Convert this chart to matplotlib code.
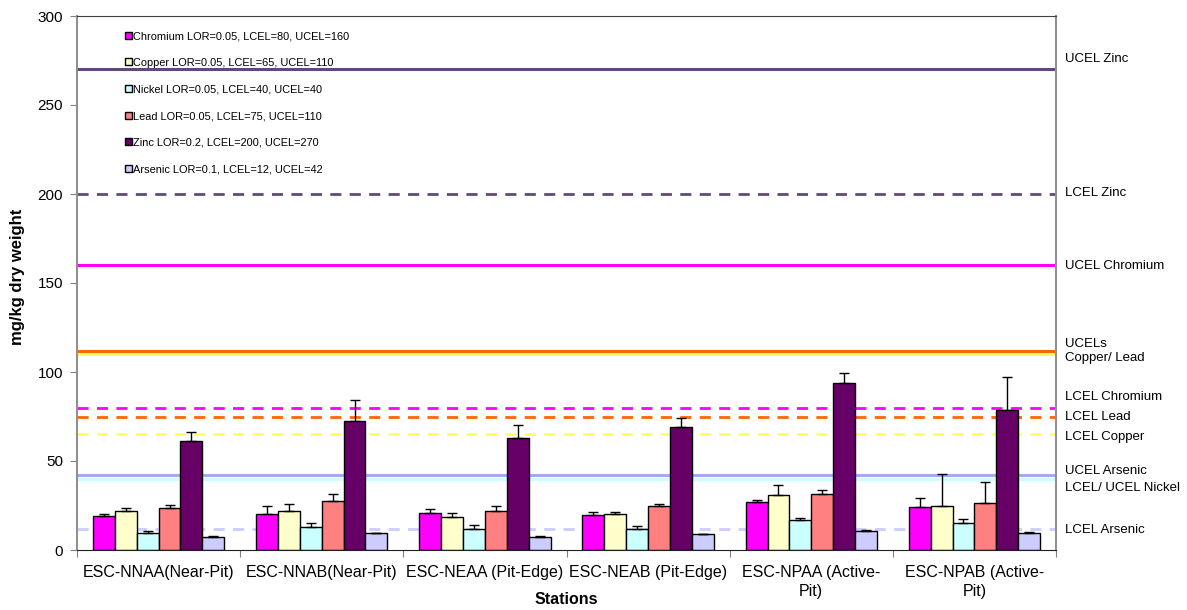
import matplotlib

matplotlib.use("Agg")

import matplotlib.pyplot as plt
import matplotlib.transforms as mtransforms
import numpy as np

plt.rcParams["font.family"] = ["Liberation Sans", "DejaVu Sans"]

stations = [
    "ESC-NNAA(Near-Pit)",
    "ESC-NNAB(Near-Pit)",
    "ESC-NEAA (Pit-Edge)",
    "ESC-NEAB (Pit-Edge)",
    "ESC-NPAA (Active-\nPit)",
    "ESC-NPAB (Active-\nPit)",
]
metals = ["Chromium", "Copper", "Nickel", "Lead", "Zinc", "Arsenic"]
legend_labels = [
    "Chromium LOR=0.05, LCEL=80, UCEL=160",
    "Copper LOR=0.05, LCEL=65, UCEL=110",
    "Nickel LOR=0.05, LCEL=40, UCEL=40",
    "Lead LOR=0.05, LCEL=75, UCEL=110",
    "Zinc LOR=0.2, LCEL=200, UCEL=270",
    "Arsenic LOR=0.1, LCEL=12, UCEL=42",
]
bar_colors = ["#FF00FF", "#FFFFCC", "#CCFFFF", "#FF8080", "#660066", "#CCCCFF"]

# mean concentration per metal, one entry per station
means = {
    "Chromium": [18.9, 20.4, 20.6, 19.4, 26.7, 24.1],
    "Copper":   [22.0, 22.0, 18.3, 20.4, 30.7, 24.7],
    "Nickel":   [9.6, 13.2, 12.0, 12.0, 16.8, 15.2],
    "Lead":     [23.5, 27.5, 22.0, 24.8, 31.5, 26.5],
    "Zinc":     [61.0, 72.3, 62.7, 69.0, 93.6, 78.8],
    "Arsenic":  [7.4, 9.4, 7.4, 8.8, 10.6, 9.4],
}
# upper error (standard deviation) per metal
errors = {
    "Chromium": [1.4, 4.1, 2.5, 2.2, 1.3, 5.0],
    "Copper":   [1.5, 3.6, 2.3, 1.2, 5.6, 18.2],
    "Nickel":   [1.3, 2.1, 1.8, 1.3, 1.1, 2.2],
    "Lead":     [1.7, 3.9, 2.5, 1.3, 2.4, 11.9],
    "Zinc":     [5.2, 11.7, 7.7, 5.1, 5.7, 18.6],
    "Arsenic":  [0.7, 0.3, 0.3, 0.3, 0.7, 0.7],
}

# guideline levels: (value, colour, solid?)
guidelines = [
    (270, "#604A7B", True),    # UCEL Zinc
    (200, "#604A7B", False),   # LCEL Zinc
    (160, "#FF00FF", True),    # UCEL Chromium
    (110, "#FFFF66", True),    # UCEL Copper
    (80, "#FF00FF", False),    # LCEL Chromium
    (75, "#FF6600", False),    # LCEL Lead
    (65, "#FFFF66", False),    # LCEL Copper
    (42, "#A8A8F0", True),     # UCEL Arsenic
    (40, "#CCFFFF", True),     # LCEL/UCEL Nickel
    (12, "#CCCCFF", False),    # LCEL Arsenic
]
lead_ucel = 110

side_labels = [
    ("UCEL Zinc", 59),
    ("LCEL Zinc", 193),
    ("UCEL Chromium", 266),
    ("UCELs\nCopper/ Lead", 351),
    ("LCEL Chromium", 397),
    ("LCEL Lead", 417),
    ("LCEL Copper", 437),
    ("UCEL Arsenic", 471),
    ("LCEL/ UCEL Nickel", 488),
    ("LCEL Arsenic", 530),
]

W, H = 1187, 610
fig = plt.figure(figsize=(W / 100, H / 100), dpi=100)
ax = fig.add_axes([77 / W, 1 - 550 / H, (1056 - 77) / W, (550 - 16) / H])

for value, color, solid in guidelines:
    ax.axhline(value, color=color, linewidth=2.2 if solid else 2.0,
               linestyle="-" if solid else (0, (4, 3)), zorder=1)
# Lead UCEL sits on the copper one; nudge it up a couple of points so both show
lead_trans = mtransforms.offset_copy(ax.transData, fig=fig, y=2.2, units="points")
ax.plot([-0.5, len(stations) - 0.5], [lead_ucel, lead_ucel], color="#FF6600",
        linewidth=2.2, transform=lead_trans, zorder=1)

x = np.arange(len(stations))
width = 0.134
offsets = (np.arange(len(metals)) - (len(metals) - 1) / 2) * width
handles = []
for i, metal in enumerate(metals):
    vals = np.array(means[metal])
    errs = np.array(errors[metal])
    b = ax.bar(x + offsets[i], vals, width, color=bar_colors[i], edgecolor="black",
               linewidth=1.0, zorder=2)
    ax.errorbar(x + offsets[i], vals, yerr=[np.zeros_like(errs), errs], fmt="none",
                ecolor="black", elinewidth=1.0, capsize=3.5, capthick=1.0, zorder=3)
    handles.append(b)

ax.set_xlim(-0.5, len(stations) - 0.5)
ax.set_ylim(0, 300)
ax.set_yticks(np.arange(0, 301, 50))
ax.set_xticks(np.arange(-0.5, len(stations), 1.0))
ax.set_xticklabels([])
ax.set_xticks(x, minor=True)
ax.set_xticklabels(stations, minor=True, fontsize=11.5, linespacing=1.35)
ax.tick_params(axis="x", which="minor", length=0, pad=11)
ax.tick_params(axis="x", which="major", length=5, direction="out", color="#808080")
ax.tick_params(axis="y", labelsize=11, length=5, color="#808080", pad=5)

for side in ["left", "right"]:
    ax.spines[side].set_color("#909090")
    ax.spines[side].set_linewidth(1.5)
ax.spines["top"].set_color("#404040")
ax.spines["bottom"].set_color("#202020")

fig.text(18 / W, 1 - 277 / H, "mg/kg dry weight", fontsize=12, fontweight="bold",
         rotation=90, ha="center", va="center")
fig.text(566 / W, 1 - 600 / H, "Stations", fontsize=11.5, fontweight="bold",
         ha="center", va="center")

leg = ax.legend(handles, legend_labels, loc="upper left", bbox_to_anchor=(0.045, 0.98),
                frameon=False, fontsize=7.9, handlelength=0.6, handleheight=0.6,
                handletextpad=0.1, labelspacing=1.52, borderaxespad=0)

for text, ypx in side_labels:
    fig.text(1065 / W, 1 - ypx / H, text, fontsize=9.5, va="center", ha="left")

fig.savefig("out.png", dpi=100)
